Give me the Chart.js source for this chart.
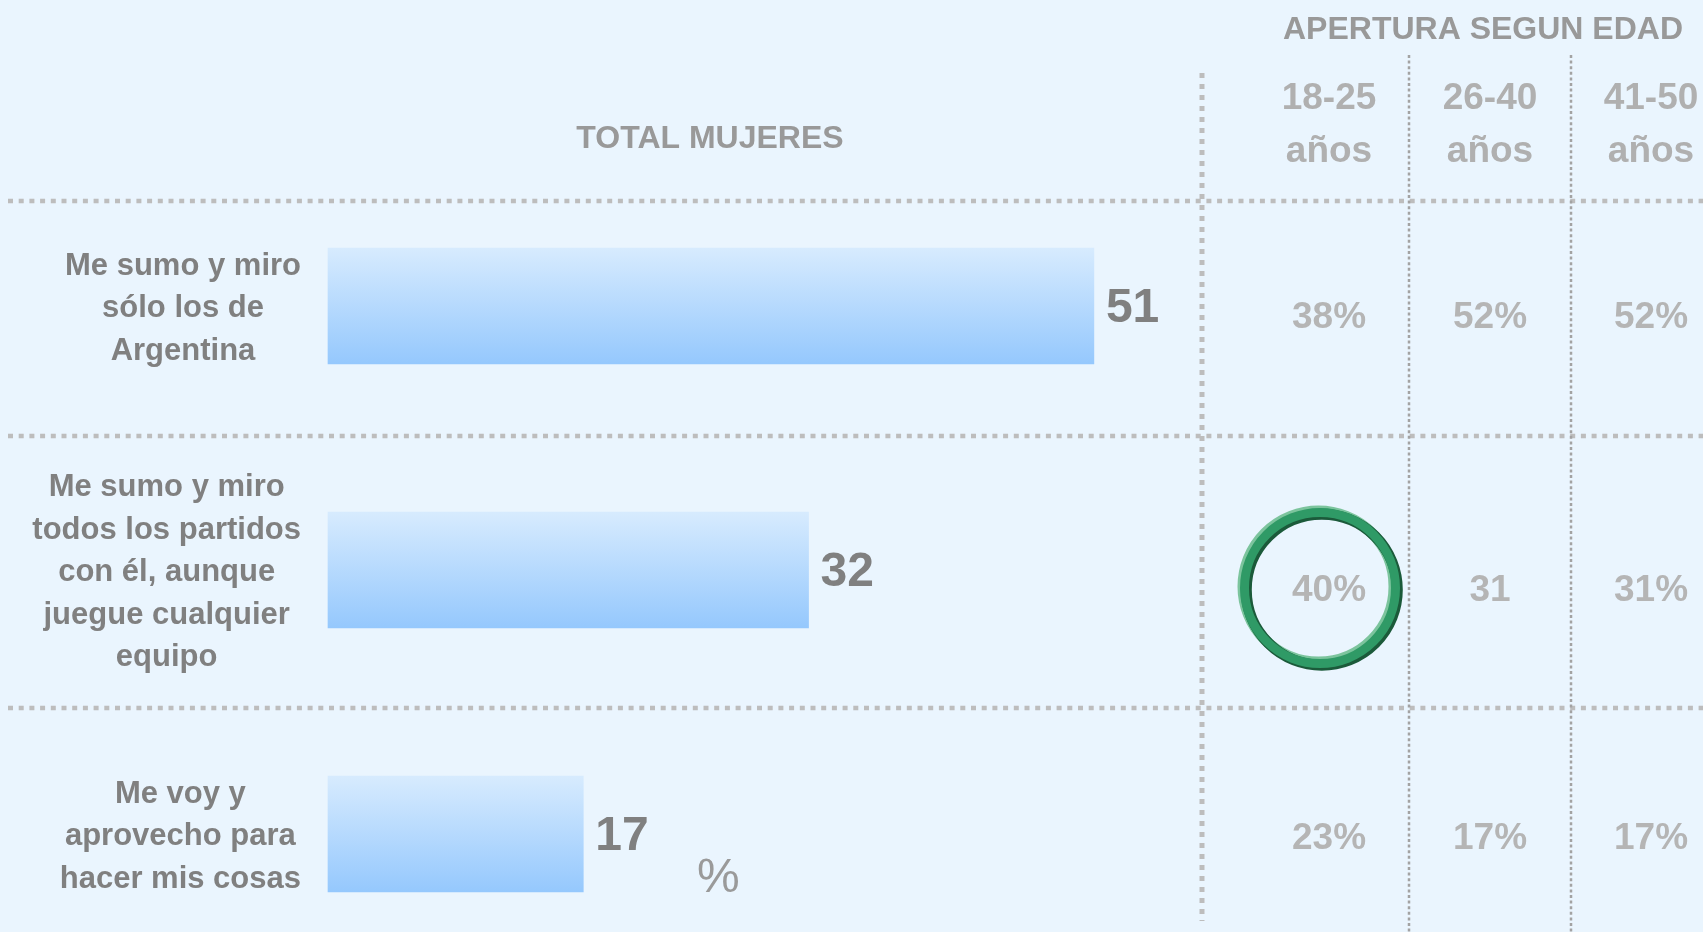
<!DOCTYPE html>
<html lang="es">
<head>
<meta charset="utf-8">
<title>Total mujeres - apertura según edad</title>
<script src="https://cdn.jsdelivr.net/npm/chart.js@4.4.1/dist/chart.umd.min.js"></script>
<style>
  html, body { margin: 0; padding: 0; background: #eaf5fe; }
  #wrap { width: 1703px; height: 932px; }
</style>
</head>
<body>
<div id="wrap"><canvas id="grafico" width="1703" height="932"></canvas></div>
<script>
// --- datos ---
const categorias = [
  ["Me sumo y miro", "sólo los de", "Argentina"],
  ["Me sumo y miro", "todos los partidos", "con él, aunque", "juegue cualquier", "equipo"],
  ["Me voy y", "aprovecho para", "hacer mis cosas"]
];
const totalMujeres = [51, 32, 17];
const edades = [["18-25", "años"], ["26-40", "años"], ["41-50", "años"]];
const edad18a25 = ["38%", "40%", "23%"];
const edad26a40 = ["52%", "31", "17%"];
const edad41a50 = ["52%", "31%", "17%"];
const celdaDestacada = { columna: 0, fila: 1 }; // la del círculo verde

// --- estilo / posiciones ---
const FUENTE = '"Liberation Sans", Arial, sans-serif';
const COL_X = [1329, 1490, 1651];
const SEP_Y = [201, 436, 708];
const AJUSTE_FILA = [9, 18, 2];

function texto(ctx, str, x, yCentro, size, color, align, peso) {
  ctx.font = `${peso || "bold"} ${size}px ${FUENTE}`;
  ctx.fillStyle = color;
  ctx.textAlign = align || "center";
  ctx.textBaseline = "alphabetic";
  ctx.fillText(str, x, yCentro + size * 0.358);
}

function linea(ctx, x1, y1, x2, y2, ancho, dash, color) {
  ctx.save();
  ctx.beginPath();
  ctx.lineWidth = ancho;
  ctx.setLineDash(dash);
  ctx.strokeStyle = color;
  ctx.moveTo(x1, y1);
  ctx.lineTo(x2, y2);
  ctx.stroke();
  ctx.restore();
}

function anillo(ctx, x, y, r, ancho, color) {
  ctx.beginPath();
  ctx.lineWidth = ancho;
  ctx.strokeStyle = color;
  ctx.arc(x, y, r, 0, Math.PI * 2);
  ctx.stroke();
}

const fondoYLineas = {
  id: "fondoYLineas",
  beforeDraw(chart) {
    const ctx = chart.ctx;
    ctx.save();
    ctx.fillStyle = "#eaf5fe";
    ctx.fillRect(0, 0, chart.width, chart.height);
    ctx.restore();

    // separadores punteados
    SEP_Y.forEach((y) => linea(ctx, 8, y, chart.width, y, 4.5, [5, 5.7], "#bdbdbd"));
    linea(ctx, 1202, 73, 1202, 921, 5, [5, 6], "#bdbdbd");
    linea(ctx, 1409, 55, 1409, chart.height, 2.5, [3, 2.6], "#a3a3a3");
    linea(ctx, 1571, 55, 1571, chart.height, 2.5, [3, 2.6], "#a3a3a3");
  },
  afterDraw(chart) {
    const ctx = chart.ctx;
    const x = chart.scales.x;
    const y = chart.scales.y;
    ctx.save();

    // encabezados
    texto(ctx, "TOTAL MUJERES", 710, 136.5, 32, "#999999");
    texto(ctx, "APERTURA SEGUN EDAD", 1483, 28, 32, "#999999");
    edades.forEach((lineas, c) => {
      texto(ctx, lineas[0], COL_X[c], 95.5, 37, "#b0b0b0");
      texto(ctx, lineas[1], COL_X[c], 149, 37, "#b0b0b0");
    });

    // etiquetas de categoría: bloque centrado, alineado a la derecha
    categorias.forEach((lineas, i) => {
      const yc = y.getPixelForValue(i);
      ctx.font = `bold 31px ${FUENTE}`;
      const ancho = Math.max(...lineas.map((l) => ctx.measureText(l).width));
      const cx = 301 - ancho / 2;
      lineas.forEach((l, j) => {
        texto(ctx, l, cx, yc + (j - (lineas.length - 1) / 2) * 42.5, 31, "#808080");
      });
    });

    // valores de las barras
    totalMujeres.forEach((v, i) => {
      texto(ctx, String(v), x.getPixelForValue(v) + 12, y.getPixelForValue(i) - 1.5, 48, "#808080", "left");
    });
    texto(ctx, "%", 697, 874.5, 48, "#9a9a9a", "left", "normal");

    // tabla por edad
    [edad18a25, edad26a40, edad41a50].forEach((col, c) => {
      col.forEach((val, f) => {
        texto(ctx, val, COL_X[c], y.getPixelForValue(f) + AJUSTE_FILA[f], 37, "#b5b5b5");
      });
    });

    // círculo verde con bisel
    const cxC = COL_X[celdaDestacada.columna] - 9;
    const cyC = y.getPixelForValue(celdaDestacada.fila) + AJUSTE_FILA[celdaDestacada.fila];
    const r = 75.5;
    anillo(ctx, cxC - 1.5, cyC - 1.5, r, 11, "#7cc49d");
    anillo(ctx, cxC + 1.8, cyC + 1.8, r, 11, "#1b5a3a");
    anillo(ctx, cxC, cyC, r, 9, "#2f9a66");

    ctx.restore();
  }
};

new Chart(document.getElementById("grafico"), {
  type: "bar",
  data: {
    labels: categorias,
    datasets: [
      {
        data: totalMujeres,
        barThickness: 116,
        borderWidth: 0,
        clip: false,
        backgroundColor(context) {
          const chart = context.chart;
          if (!chart.chartArea || context.dataIndex === undefined) return "#b3d9fe";
          const yc = chart.scales.y.getPixelForValue(context.dataIndex);
          const g = chart.ctx.createLinearGradient(0, yc - 58, 0, yc + 58);
          g.addColorStop(0, "#d7ebfe");
          g.addColorStop(1, "#95c8fd");
          return g;
        }
      }
    ]
  },
  options: {
    indexAxis: "y",
    responsive: false,
    devicePixelRatio: 1,
    animation: false,
    layout: { padding: { left: 328, right: 504, top: 306, bottom: 98 } },
    scales: {
      x: { type: "linear", min: 0, max: 58, display: false },
      y: { type: "category", offset: false, display: false }
    },
    plugins: {
      legend: { display: false },
      tooltip: { enabled: false }
    }
  },
  plugins: [fondoYLineas]
});
</script>
</body>
</html>
